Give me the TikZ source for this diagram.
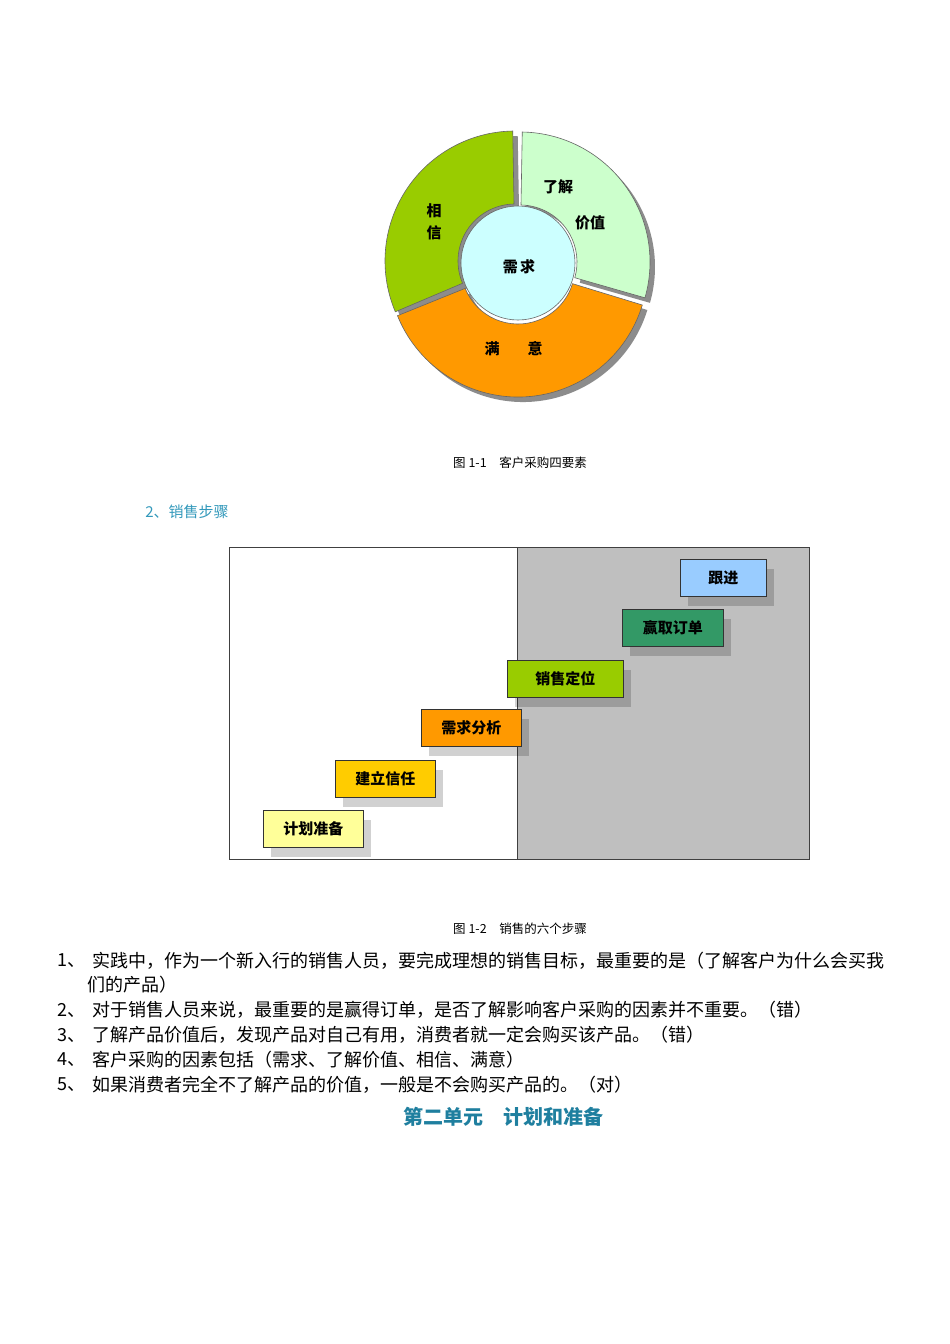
\documentclass[tikz,border=0pt]{standalone}
\usepackage{fontspec}
\setmainfont{Noto Sans CJK SC}
\usetikzlibrary{calc}
\begin{document}
\begin{tikzpicture}[x=1pt,y=-1pt,
  lbl/.style={font=\fontsize{15}{15}\selectfont\bfseries,inner sep=0},
  stepbox/.style={draw=black!80,line width=0.8pt,minimum height=37pt,inner sep=0,font=\fontsize{15}{15}\selectfont\bfseries,anchor=north west},
  shadowbox/.style={fill=black,opacity=0.18},
  captext/.style={font=\fontsize{12.5}{12.5}\selectfont,inner sep=0},
  item/.style={font=\fontsize{18}{18}\selectfont,inner sep=0,anchor=west},
  seg/.style={draw=black!60,line width=0.6pt}]
\useasboundingbox (0,0) rectangle (950,1344);
\fill[white] (0,0) rectangle (950,1344);
% pie
\coordinate (c) at (518,263);
\def\R{130}\def\r{57}
\newcommand\annsec[4]{% center, a1, a2, style
  \path[#4] ($(#1)+(#2:\R)$) arc[start angle=#2,end angle=#3,radius=\R] -- ($(#1)+(#3:\r)$) arc[start angle=#3,end angle=#2,radius=\r] -- cycle;}
\coordinate (cg) at ($(c)+(-3,-2)$);
\coordinate (cl) at ($(c)+(2,-1)$);
\coordinate (co) at ($(c)+(0,4)$);
\coordinate (cgs) at ($(cg)+(5,5)$);
\coordinate (cls) at ($(cl)+(5,5)$);
\coordinate (cos) at ($(co)+(5,5)$);
\annsec{cgs}{-91}{-203}{fill=black!45}
\annsec{cls}{16}{-89}{fill=black!45}
\annsec{cos}{17}{158}{fill=black!45}
\annsec{cg}{-91}{-203}{seg,fill={rgb,255:red,153;green,204;blue,0}}
\annsec{cl}{16}{-89}{seg,fill={rgb,255:red,204;green,255;blue,204}}
\annsec{co}{17}{158}{seg,fill={rgb,255:red,255;green,153;blue,0}}
\node[circle,minimum size=114pt,draw=black!60,line width=0.6pt,fill={rgb,255:red,204;green,255;blue,255}] (core) at (c) {};
\node[lbl] (l1) at (558,187) {了解};
\node[lbl] (l2) at (590,223) {价值};
\node[lbl] (x1) at (434,211) {相};
\node[lbl] (x2) at (434,233) {信};
\node[lbl] (xq) at (519,267) {需\,求};
\node[lbl] (m1) at (492,349) {满};
\node[lbl] (m2) at (535,349) {意};
\node[captext] (cap1) at (520,463) {图 1-1\quad 客户采购四要素};
\node[font=\fontsize{15}{15}\selectfont,text={rgb,255:red,51;green,153;blue,187},inner sep=0] (h2) at (187,512) {2、销售步骤};
% steps
\fill[black!25] (517,547) rectangle (809,859);
\draw[black!75,line width=0.8pt] (229,547) rectangle (809,859);
\draw[black!75,line width=0.8pt] (517,547) -- (517,859);
\foreach \x/\y/\w in {680/559/86,622/609/101,507/660/116,421/709/100,335/760/100,263/810/100}
  \fill[shadowbox] (\x+8,\y+10) rectangle ++(\w,37);
\node[stepbox,minimum width=86pt,fill={rgb,255:red,153;green,204;blue,255}] (s6) at (680,559) {跟进};
\node[stepbox,minimum width=101pt,fill={rgb,255:red,51;green,153;blue,102}] (s5) at (622,609) {赢取订单};
\node[stepbox,minimum width=116pt,fill={rgb,255:red,153;green,204;blue,0}] (s4) at (507,660) {销售定位};
\node[stepbox,minimum width=100pt,fill={rgb,255:red,255;green,153;blue,0}] (s3) at (421,709) {需求分析};
\node[stepbox,minimum width=100pt,fill={rgb,255:red,255;green,204;blue,0}] (s2) at (335,760) {建立信任};
\node[stepbox,minimum width=100pt,fill={rgb,255:red,255;green,255;blue,153}] (s1) at (263,810) {计划准备};
\node[captext] (cap2) at (520,929) {图 1-2\quad 销售的六个步骤};
% list
\node[item] (n1) at (57,961) {1、};
\node[item] (t1) at (92,961) {实践中，作为一个新入行的销售人员，要完成理想的销售目标，最重要的是（了解客户为什么会买我};
\node[item] (t1b) at (87,985) {们的产品）};
\node[item] (n2) at (57,1010) {2、};
\node[item] (t2) at (92,1010) {对于销售人员来说，最重要的是赢得订单，是否了解影响客户采购的因素并不重要。（错）};
\node[item] (n3) at (57,1035) {3、};
\node[item] (t3) at (92,1035) {了解产品价值后，发现产品对自己有用，消费者就一定会购买该产品。（错）};
\node[item] (n4) at (57,1060) {4、};
\node[item] (t4) at (92,1060) {客户采购的因素包括（需求、了解价值、相信、满意）};
\node[item] (n5) at (57,1085) {5、};
\node[item] (t5) at (92,1085) {如果消费者完全不了解产品的价值，一般是不会购买产品的。（对）};
\node[font=\fontsize{20}{20}\selectfont\bfseries,text={rgb,255:red,31;green,127;blue,159},inner sep=0] (h3) at (503,1117) {第二单元\quad 计划和准备};
\end{tikzpicture}
\end{document}
